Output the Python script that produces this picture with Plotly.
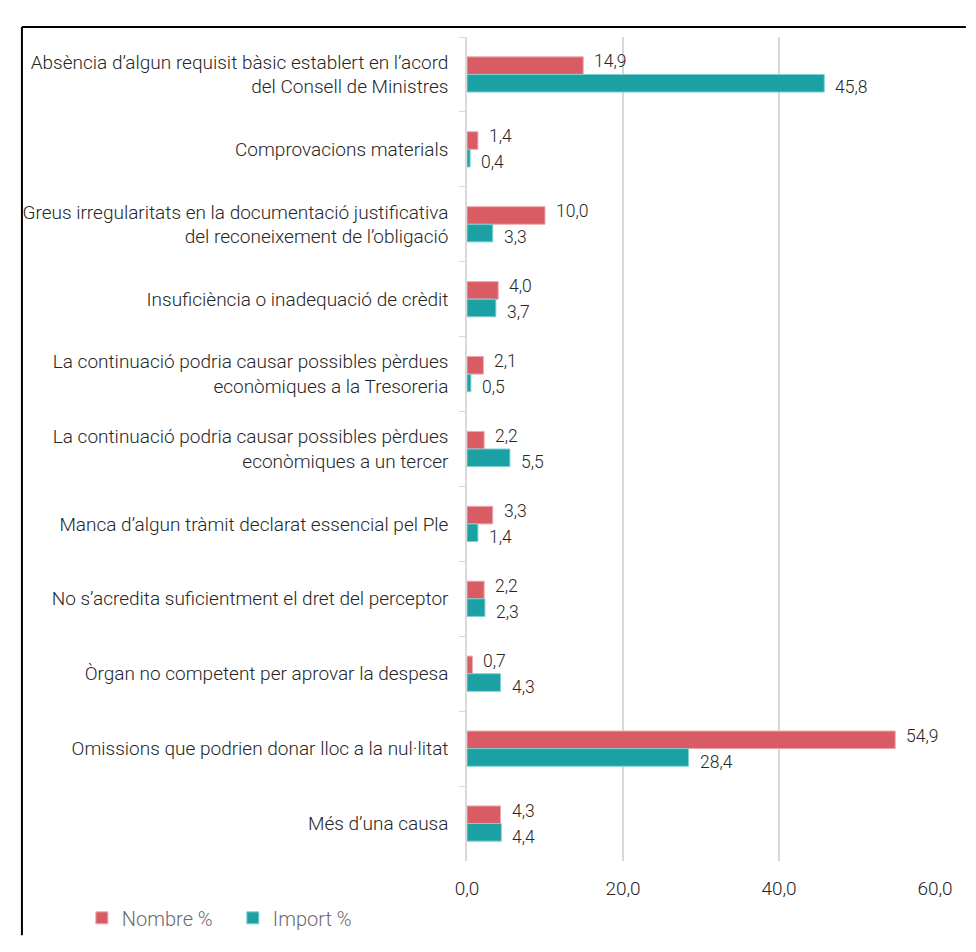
import plotly.graph_objects as go

categories = [
    "Absència d’algun requisit bàsic establert en l’acord<br>del Consell de Ministres",
    "Comprovacions materials",
    "Greus irregularitats en la documentació justificativa<br>del reconeixement de l’obligació",
    "Insuficiència o inadequació de crèdit",
    "La continuació podria causar possibles pèrdues<br>econòmiques a la Tresoreria",
    "La continuació podria causar possibles pèrdues<br>econòmiques a un tercer",
    "Manca d’algun tràmit declarat essencial pel Ple",
    "No s’acredita suficientment el dret del perceptor",
    "Òrgan no competent per aprovar la despesa",
    "Omissions que podrien donar lloc a la nul·litat",
    "Més d’una causa",
]
nombre = [14.9, 1.4, 10.0, 4.0, 2.1, 2.2, 3.3, 2.2, 0.7, 54.9, 4.3]
import_pct = [45.8, 0.4, 3.3, 3.7, 0.5, 5.5, 1.4, 2.3, 4.3, 28.4, 4.4]
x_ticks = [0, 20, 40, 60]

RED = "#D95C65"
TEAL = "#1BA0A3"
FONT = "Roboto"
TXT = "#262626"

fig = go.Figure()
fig.add_trace(go.Bar(y=categories, x=nombre, name="Nombre %", orientation="h",
                     marker=dict(color=RED, line=dict(color="#f0a8ae", width=1))))
fig.add_trace(go.Bar(y=categories, x=import_pct, name="Import %", orientation="h",
                     marker=dict(color=TEAL, line=dict(color="#7fd0d2", width=1))))

def fmt(v):
    return f"{v:.1f}".replace(".", ",")

anns = []
for c, v in zip(categories, nombre):
    anns.append(dict(x=v, y=c, text=fmt(v), showarrow=False, xanchor="left",
                     xshift=9, yshift=13, font=dict(family=FONT, size=17.5, color=TXT, weight=300)))
for c, v in zip(categories, import_pct):
    anns.append(dict(x=v, y=c, text=fmt(v), showarrow=False, xanchor="left",
                     xshift=9, yshift=-13, font=dict(family=FONT, size=17.5, color=TXT, weight=300)))

border = dict(color="black", width=2)
fig.update_layout(
    width=960, height=928,
    margin=dict(l=459, r=33, t=29, b=75, autoexpand=False),
    paper_bgcolor="white", plot_bgcolor="white",
    barmode="group", bargap=0.53, bargroupgap=0,
    separators=",.",
    annotations=anns,
    font=dict(family=FONT, size=19, color=TXT, weight=300),
    legend=dict(orientation="h", x=-0.823, xanchor="left", y=-0.069, yanchor="middle",
                font=dict(family=FONT, size=20, color="#6b6b6b", weight=300),
                entrywidth=106, traceorder="normal"),
    shapes=[
        dict(type="line", xref="paper", yref="paper", x0=-0.951, x1=-0.951, y0=-0.09, y1=1.012,
             line=border, layer="below"),
        dict(type="line", xref="paper", yref="paper", x0=-0.951, x1=1.066, y0=1.012, y1=1.012,
             line=border, layer="below"),
    ],
)
fig.update_xaxes(range=[0, 60], tickvals=x_ticks, tickformat=".1f", automargin=False,
                 showgrid=True, gridcolor="#d9d9d9", gridwidth=1.5,
                 zeroline=False, showline=False, ticks="", ticklabelstandoff=14,
                 tickfont=dict(family=FONT, size=19, color=TXT, weight=300))
fig.update_yaxes(autorange="reversed", showline=True, linecolor="#d9d9d9", linewidth=1.5,
                 automargin=False,
                 ticks="outside", tickson="boundaries", ticklen=6, tickcolor="#d9d9d9",
                 ticklabelstandoff=13, showgrid=False,
                 tickfont=dict(family=FONT, size=19, color=TXT, weight=300))

fig.write_html(
    "out.html",
    post_script="document.documentElement.style.overflow='hidden';document.body.style.overflow='hidden';",
)
